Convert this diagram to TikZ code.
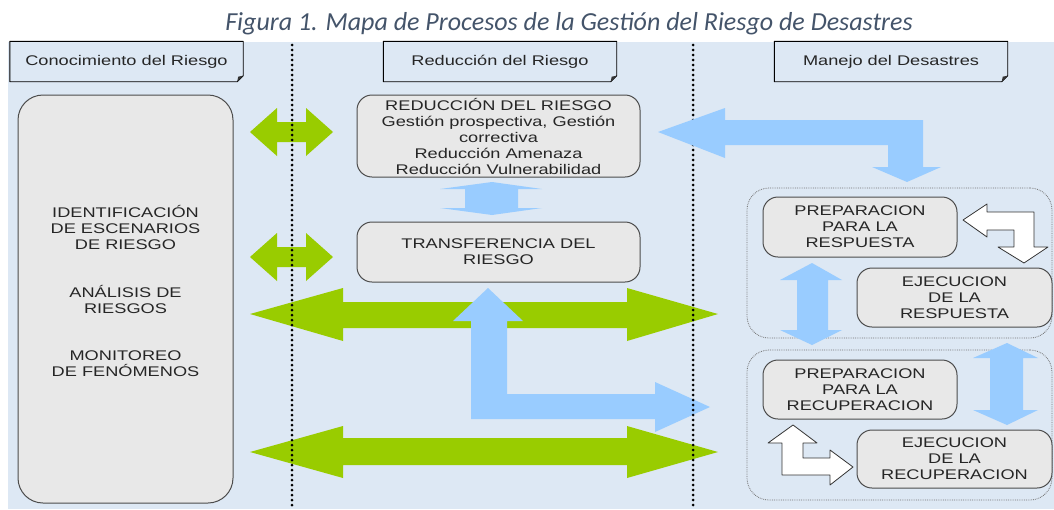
\documentclass[tikz,border=0pt]{standalone}
\usepackage{fontspec}
\setmainfont{Liberation Sans}
\newfontfamily\boxfont[FakeStretch=1.3]{Liberation Sans}
\newfontfamily\capfont{Carlito}
\usetikzlibrary{calc}
\definecolor{bgblue}{HTML}{DDE8F4}
\definecolor{boxgray}{HTML}{E8E8E8}
\definecolor{greenarr}{HTML}{99CC00}
\definecolor{bluearr}{HTML}{99CCFF}
\definecolor{capslate}{HTML}{44546A}
\begin{document}
\begin{tikzpicture}[x=1pt,y=-1pt,line join=round,font=\boxfont\fontsize{14}{16}\selectfont,
	hdbox/.style={minimum width=233,minimum height=40,inner sep=0pt},
	hdline/.style={draw=black,line width=0.9pt,fill=bgblue},
	procbox/.style={draw=black!70,line width=1pt,fill=boxgray,rounded corners=15,align=center,inner sep=0pt,text=black!85},
	grpbox/.style={draw=black!55,densely dotted,line width=0.8pt,rounded corners=22,minimum width=305,minimum height=150},
	greenarrow/.style={fill=greenarr},
	bluearrow/.style={fill=bluearr},
	whitearrow/.style={fill=white,draw=black!80,line width=0.8pt},
	sepline/.style={line width=3pt,dash pattern=on 0pt off 5pt,line cap=round}]
	\useasboundingbox (0,0) rectangle (1054,509);
	\fill[bgblue] (8,42) rectangle (1054,509);
	\node[anchor=base,text=capslate,font=\capfont\itshape\fontsize{26}{28}\selectfont] (caption) at (569,30) {Figura 1. Mapa de Procesos de la Gestión del Riesgo de Desastres};
	% cabeceras
	\node[hdbox] (hdKnow) at (126.5,61.5) {};
	\node[hdbox] (hdRed) at (500,61.5) {};
	\node[hdbox] (hdMan) at (891,61.5) {};
	\draw[hdline] (hdKnow.north west)--(hdKnow.north east)--($(hdKnow.south east)+(0,-6)$)--($(hdKnow.south east)+(-6,0)$)--(hdKnow.south west)--cycle;
	\draw[hdline] (hdRed.north west)--(hdRed.north east)--($(hdRed.south east)+(0,-6)$)--($(hdRed.south east)+(-6,0)$)--(hdRed.south west)--cycle;
	\draw[hdline] (hdMan.north west)--(hdMan.north east)--($(hdMan.south east)+(0,-6)$)--($(hdMan.south east)+(-6,0)$)--(hdMan.south west)--cycle;
	\fill[black!80] ($(hdKnow.south east)+(0,-6)$)--($(hdKnow.south east)+(-6,0)$)--($(hdKnow.south east)+(-5,-5)$)--cycle;
	\fill[black!80] ($(hdRed.south east)+(0,-6)$)--($(hdRed.south east)+(-6,0)$)--($(hdRed.south east)+(-5,-5)$)--cycle;
	\fill[black!80] ($(hdMan.south east)+(0,-6)$)--($(hdMan.south east)+(-6,0)$)--($(hdMan.south east)+(-5,-5)$)--cycle;
	\node[text=black!85] at (hdKnow) {Conocimiento del Riesgo};
	\node[text=black!85] at (hdRed) {Reducción del Riesgo};
	\node[text=black!85] at (hdMan) {Manejo del Desastres};
	% procesos
	\node[procbox,rounded corners=25,minimum width=215,minimum height=408] (know) at (125.5,299) {};
	\node[align=center,text=black!85] (knowtext) at (125.5,291) {IDENTIFICACIÓN\\DE ESCENARIOS\\DE RIESGO\\[32pt]ANÁLISIS DE\\RIESGOS\\[31pt]MONITOREO\\DE FENÓMENOS};
	\node[procbox,minimum width=283,minimum height=82] (redu) at (498.5,136) {REDUCCIÓN DEL RIESGO\\Gestión prospectiva, Gestión\\correctiva\\Reducción Amenaza\\Reducción Vulnerabilidad};
	\node[procbox,minimum width=283,minimum height=60] (trans) at (498.5,252) {TRANSFERENCIA DEL\\RIESGO};
	\node[grpbox] (grpResp) at (899.5,263) {};
	\node[grpbox] (grpRec) at (899.5,425) {};
	\node[procbox,minimum width=194,minimum height=60] (prepResp) at (860,227) {PREPARACION\\PARA LA\\RESPUESTA};
	\node[procbox,minimum width=195,minimum height=59] (ejecResp) at (954.5,297.5) {EJECUCION\\DE LA\\RESPUESTA};
	\node[procbox,minimum width=194,minimum height=59] (prepRec) at (860,389.5) {PREPARACION\\PARA LA\\RECUPERACION};
	\node[procbox,minimum width=195,minimum height=58] (ejecRec) at (954.5,459) {EJECUCION\\DE LA\\RECUPERACION};
	% flechas verdes
	\fill[greenarrow] (250,132)--(277,108)--(277,122)--(306,122)--(306,108)--(333,132)--(306,156)--(306,142)--(277,142)--(277,156)--cycle;
	\fill[greenarrow] (250,257)--(277,233)--(277,247)--(306,247)--(306,233)--(333,257)--(306,281)--(306,267)--(277,267)--(277,281)--cycle;
	\fill[greenarrow] (250,314)--(343,288)--(343,302)--(627,302)--(627,288)--(718,314)--(627,341)--(627,328)--(343,328)--(343,341)--cycle;
	\fill[greenarrow] (250,452)--(343,426)--(343,438)--(627,438)--(627,426)--(718,452)--(627,478)--(627,465)--(343,465)--(343,478)--cycle;
	\fill[bluearrow] (488,288)--(523,321)--(507,321)--(507,394)--(655,394)--(655,382)--(710,407)--(655,432)--(655,419)--(471,419)--(471,321)--(453,321)--cycle;
	% separadores
	\draw[sepline] (292,45)--(292,509);
	\draw[sepline] (693,45)--(693,509);
	% flechas azules
	\fill[bluearrow] (658,132)--(725,108)--(725,120)--(923,120)--(923,167)--(941,167)--(907,182)--(872,167)--(888,167)--(888,145)--(725,145)--(725,158)--cycle;
	\fill[bluearrow] (492,182)--(542,189)--(518,189)--(518,208)--(542,208)--(492,215)--(440,208)--(465,208)--(465,189)--(440,189)--cycle;
	\fill[bluearrow] (812,263)--(842,280)--(828,280)--(828,330)--(842,330)--(812,345)--(780,330)--(797,330)--(797,280)--(780,280)--cycle;
	\fill[bluearrow] (1007,343)--(1038,358)--(1023,358)--(1023,410)--(1038,410)--(1007,425)--(973,410)--(990,410)--(990,358)--(973,358)--cycle;
	% flechas blancas
	\draw[whitearrow] (963,220)--(987,204)--(987,212)--(1034,212)--(1034,247)--(1048,247)--(1024,263)--(998,247)--(1014,247)--(1014,230)--(987,230)--(987,237)--cycle;
	\draw[whitearrow] (793,425)--(817,443)--(803,443)--(803,458)--(830,458)--(830,450)--(853,467)--(830,485)--(830,475)--(782,475)--(782,443)--(768,443)--cycle;
\end{tikzpicture}
\end{document}
